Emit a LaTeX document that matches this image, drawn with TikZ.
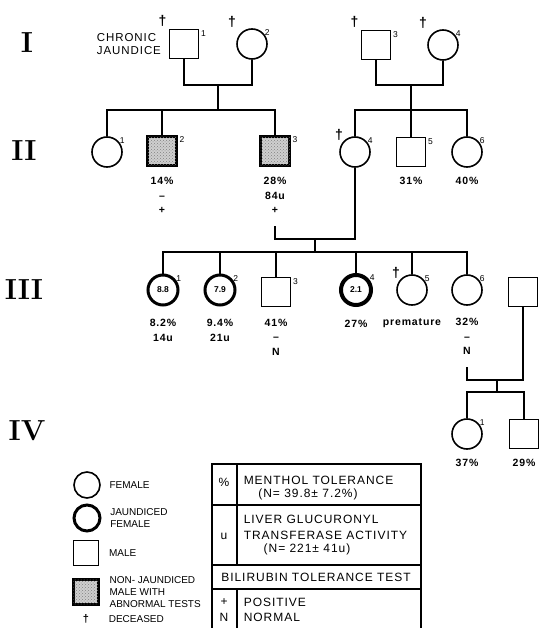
\documentclass[tikz,border=0pt]{standalone}
\usepackage{fontspec}
\setsansfont{Liberation Sans}
\newfontfamily\widesans[LetterSpace=8]{Liberation Sans}
\usepackage{tikz}
\usetikzlibrary{positioning, patterns}
\definecolor{stipple}{HTML}{CFCFCF}

\begin{document}
\begin{tikzpicture}[
    x=1pt, y=-1pt, line width=1.6pt,
    num/.style={font=\sffamily\fontsize{8.5}{8.5}\selectfont, inner sep=1pt},
    dag/.style={font=\sffamily\bfseries\fontsize{14}{14}\selectfont, inner sep=0pt},
    female/.style={circle, draw, line width=1.6pt, minimum size=30pt, inner sep=0pt, font=\sffamily\bfseries\fontsize{8.5}{9}\selectfont},
    jaundiced/.style={female, line width=3pt},
    male/.style={rectangle, draw, line width=1.6pt, minimum size=29pt, inner sep=0pt},
    abnormal/.style={male, line width=2.6pt, fill=stipple, postaction={pattern=crosshatch dots, pattern color=black!50}},
    sqnum/.style={label={[num, anchor=north west]north east:#1}},
    cinum/.style={label={[num, anchor=west]north east:#1}},
    dead/.style={label={[dag, label distance=#1]north west:†}},
    dead/.default=0pt,
    result/.style={font=\widesans\bfseries\fontsize{10.5}{14.5}\selectfont, align=center, inner sep=0pt},
    gen/.style={font=\rmfamily\bfseries\fontsize{29}{29}\selectfont, inner sep=0pt},
    key/.style={font=\sffamily\fontsize{10}{12}\selectfont, align=left, inner sep=0pt},
    cell/.style={font=\widesans\fontsize{12}{13}\selectfont, inner sep=0pt},
]
\useasboundingbox (0,0) rectangle (542,628);

\node[gen] (g1) at (27,43) {I};
\node[gen] (g2) at (24,151) {II};
\node[gen] (g3) at (24,290) {III};
\node[gen] (g4) at (27,431) {IV};

\node[male, dead=2pt, sqnum=1] (I1) at (184,44) {};
\node[female, dead=6pt, cinum=2] (I2) at (252,44) {};
\node[male, dead=2pt, sqnum=3] (I3) at (376,45) {};
\node[female, dead=6pt, cinum=4] (I4) at (443,45) {};
\node[key, font=\widesans\fontsize{11.5}{13}\selectfont, left=7pt of I1] (cj) {CHRONIC\\JAUNDICE};

\node[female, cinum=1] (II1) at (107,152) {};
\node[abnormal, sqnum=2] (II2) at (162,151) {};
\node[abnormal, sqnum=3] (II3) at (275,151) {};
\node[female, dead, cinum=4] (II4) at (355,152) {};
\node[male, sqnum=5] (II5) at (411,152) {};
\node[female, cinum=6] (II6) at (467,152) {};
\node[result, below=10pt of II2] (II2r) {14\%\\–\\+};
\node[result, below=10pt of II3] (II3r) {28\%\\84u\\+};
\node[result, below=9pt of II5] (II5r) {31\%};
\node[result, below=9pt of II6] (II6r) {40\%};

\node[jaundiced, cinum=1] (III1) at (163,290) {8.8};
\node[jaundiced, cinum=2] (III2) at (220,290) {7.9};
\node[male, sqnum=3] (III3) at (276,292) {};
\node[jaundiced, line width=4pt, cinum=4] (III4) at (356,290) {2.1};
\node[female, dead, cinum=5] (III5) at (412,290) {};
\node[female, cinum=6] (III6) at (467,290) {};
\node[male] (III7) at (523,292) {};
\node[result, below=12pt of III1] (III1r) {8.2\%\\14u};
\node[result, below=12pt of III2] (III2r) {9.4\%\\21u};
\node[result, below=11pt of III3] (III3r) {41\%\\–\\N};
\node[result, below=12pt of III4] (III4r) {27\%};
\node[result, below=12pt of III5] (III5r) {premature};
\node[result, below=12pt of III6] (III6r) {32\%\\–\\N};

\node[female, cinum=1] (IV1) at (467,434) {};
\node[male] (IV2) at (524,434) {};
\node[result, below=9pt of IV1] (IV1r) {37\%};
\node[result, below=9pt of IV2] (IV2r) {29\%};

\coordinate (m1) at (218,85);
\coordinate (s1) at (218,110);
\coordinate (m2) at (411,85);
\coordinate (s2) at (411,110);
\coordinate (c3) at (275,226);
\coordinate (m3) at (315,239);
\coordinate (s3) at (315,252);
\coordinate (c6) at (467,367);
\coordinate (m4) at (497,380);
\coordinate (s4) at (497,392);

\draw (I1.south) |- (m1) -| (I2.south);
\draw (m1) -- (s1);
\draw (II1.north) |- (s1) -| (II3.north);
\draw (II2.north) -- (II2.north |- s1);
\draw (I3.south) |- (m2) -| (I4.south);
\draw (m2) -- (s2);
\draw (II4.north) |- (s2) -| (II6.north);
\draw (II5.north) -- (s2);
\draw (c3) |- (m3) -| (II4.south);
\draw (m3) -- (s3);
\draw (III1.north) |- (s3) -| (III6.north);
\foreach \k in {III2,III3,III4,III5}
    \draw (\k.north) -- (\k.north |- s3);
\draw (c6) |- (m4) -| (III7.south);
\draw (m4) -- (s4);
\draw (IV1.north) |- (s4) -| (IV2.north);

\node[female, minimum size=26pt] (kf) at (87,485) {};
\node[key, right=8pt of kf] (kft) {FEMALE};
\node[jaundiced, minimum size=26pt] (kj) at (87,518) {};
\node[key, right=8pt of kj] (kjt) {JAUNDICED\\FEMALE};
\node[male, minimum size=25pt] (km) at (86,553) {};
\node[key, right=9pt of km] (kmt) {MALE};
\node[abnormal, minimum size=25pt] (ka) at (86,592) {};
\node[key, right=9pt of ka] (kat) {NON- JAUNDICED\\MALE WITH\\ABNORMAL TESTS};
\node[dag, font=\sffamily\bfseries\fontsize{11}{11}\selectfont] (kd) at (86,619) {†};
\node[key, anchor=west] (kdt) at (108,619) {DECEASED};

\draw[line width=1.2pt] (212,628) -- (212,464) -- (421,464) -- (421,628);
\draw[line width=1.2pt] (212,505) -- (421,505);
\draw[line width=1.2pt] (212,565) -- (421,565);
\draw[line width=1.2pt] (212,589) -- (421,589);
\draw[line width=1.2pt] (237,464) -- (237,565);
\draw[line width=1.2pt] (237,589) -- (237,628);
\node[cell] (tp) at (224,482) {\%};
\node[cell, anchor=west] (t1) at (243,480) {MENTHOL TOLERANCE};
\node[cell] (t1n) at (308,494) {(N= 39.8± 7.2\%)};
\node[cell] (tu) at (224,536) {u};
\node[cell, anchor=west] (t2) at (243,519) {LIVER GLUCURONYL};
\node[cell, anchor=west] (t2b) at (243,535) {TRANSFERASE ACTIVITY};
\node[cell] (t2n) at (307,549) {(N= 221± 41u)};
\node[cell] (t3) at (316,577) {BILIRUBIN TOLERANCE TEST};
\node[cell] (tpos) at (224,602) {+};
\node[cell, anchor=west] (t4) at (243,602) {POSITIVE};
\node[cell] (tn) at (224,617) {N};
\node[cell, anchor=west] (t5) at (243,617) {NORMAL};
\end{tikzpicture}
\end{document}
